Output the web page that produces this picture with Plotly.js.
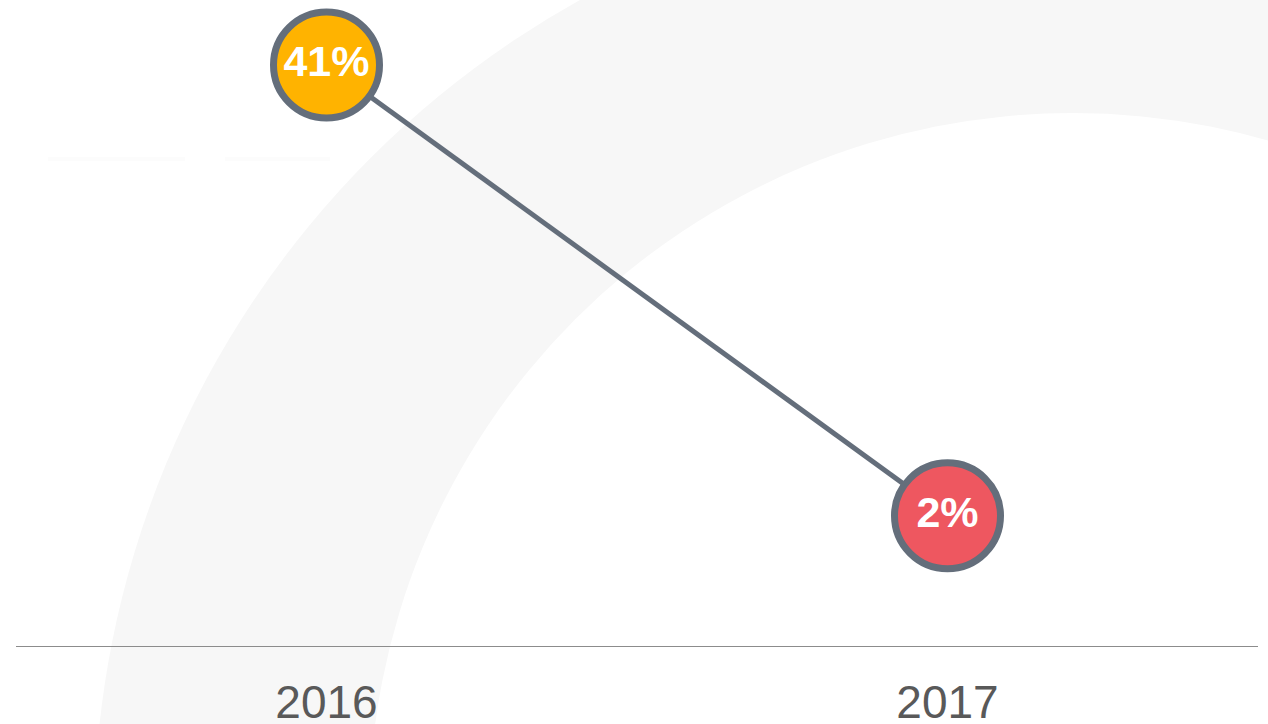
<!DOCTYPE html>
<html>
<head>
<meta charset="utf-8">
<script src="https://cdn.plot.ly/plotly-3.0.1.min.js"></script>
<style>
html,body{margin:0;padding:0;background:#fff;}
#chart{width:1268px;height:724px;}
</style>
</head>
<body>
<div id="chart"></div>
<script>
const years = ['2016', '2017'];
const values = [41, 2];
const labels = ['41%', '2%'];
const pointColors = ['#FFB300', '#EE5760'];

const W = 1268, H = 724;
const margin = {l: 16, r: 10, t: 0, b: 78};
const pw = W - margin.l - margin.r, ph = H - margin.t - margin.b;
function px(x){ return (x - margin.l) / pw; }
function py(y){ return (H - margin.b - y) / ph; }
function circ(cx, cy, r, color){
  return {type:'circle', xref:'paper', yref:'paper', layer:'below',
    x0: px(cx - r), x1: px(cx + r), y0: py(cy + r), y1: py(cy - r),
    fillcolor: color, line: {width: 0}};
}
function hline(x0, x1, y, color){
  return {type:'line', xref:'paper', yref:'paper', layer:'below',
    x0: px(x0), x1: px(x1), y0: py(y), y1: py(y), line: {color: color, width: 4}};
}

const trace = {
  x: years, y: values, text: labels,
  type: 'scatter', mode: 'lines+markers+text',
  textposition: 'middle center',
  textfont: {family: 'Liberation Sans, Arial, sans-serif', size: 43, color: '#ffffff', weight: 'bold'},
  line: {color: '#646E7B', width: 5},
  marker: {size: 106, color: pointColors, line: {color: '#646E7B', width: 7}, opacity: 1},
  hoverinfo: 'none', cliponaxis: false
};

const layout = {
  width: W, height: H, margin: margin,
  paper_bgcolor: '#ffffff', plot_bgcolor: 'rgba(0,0,0,0)',
  showlegend: false,
  font: {family: 'Liberation Sans, Arial, sans-serif'},
  xaxis: {
    type: 'category', range: [-0.5, 1.5], fixedrange: true,
    showgrid: false, zeroline: false,
    showline: true, linecolor: '#8c8c8c', linewidth: 1,
    ticks: 'outside', ticklen: 16, tickcolor: 'rgba(0,0,0,0)',
    tickfont: {size: 46, color: '#595959', family: 'Liberation Sans, Arial, sans-serif'}
  },
  yaxis: {
    range: [-9.26, 46.62], fixedrange: true,
    showgrid: false, zeroline: false, showline: false, showticklabels: false, ticks: ''
  },
  shapes: [
    circ(1039, 826, 945, '#f7f7f7'),
    circ(1073, 817, 704, '#ffffff'),
    hline(48, 185, 159, '#fcfcfc'),
    hline(225, 330, 159, '#fcfcfc')
  ]
};

Plotly.newPlot('chart', [trace], layout, {displayModeBar: false, staticPlot: true});
</script>
</body>
</html>
